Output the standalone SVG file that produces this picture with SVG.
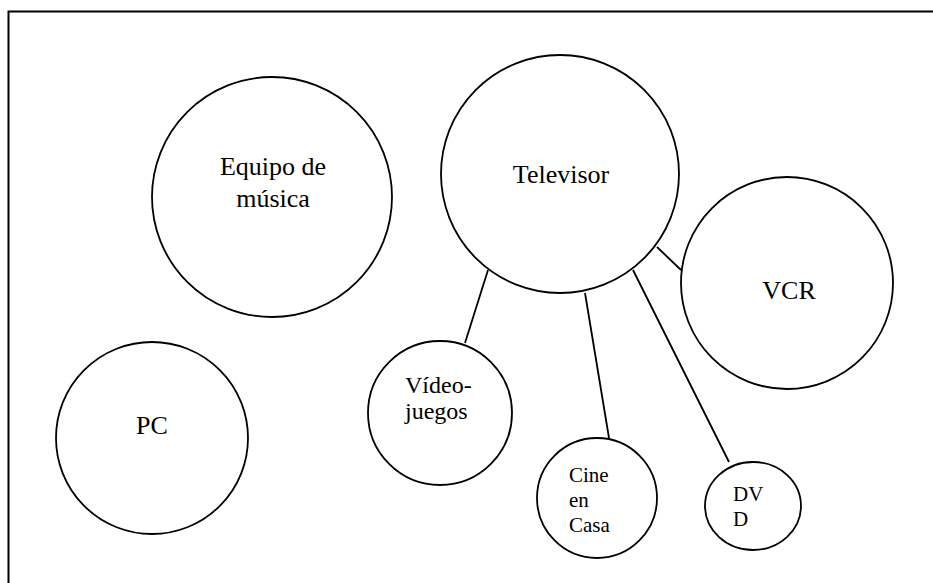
<svg xmlns="http://www.w3.org/2000/svg" width="933" height="583" viewBox="0 0 933 583">
  <style>
    .frame { fill: none; stroke: #000; stroke-width: 2; }
    .node { fill: #fff; stroke: #000; stroke-width: 1.8; }
    .link { stroke: #000; stroke-width: 1.8; fill: none; }
    text { font-family: "Liberation Serif", "Times New Roman", "DejaVu Serif", serif; fill: #000; }
    .big { font-size: 26px; }
    .mid { font-size: 24px; }
    .small { font-size: 21px; }
  </style>
  <rect width="933" height="583" fill="#fff"/>
  <!-- outer frame, open past the right and bottom edges -->
  <rect class="frame" x="8.5" y="11.5" width="940" height="590"/>

  <g id="connectors">
    <line class="link" x1="488" y1="270" x2="465" y2="343"/>
    <line class="link" x1="585" y1="293" x2="609" y2="438"/>
    <line class="link" x1="633" y1="270" x2="729" y2="462"/>
    <line class="link" x1="657" y1="247" x2="681" y2="270"/>
  </g>

  <g id="equipo">
    <circle class="node" cx="272" cy="197" r="120"/>
    <text class="big" x="273" y="175" text-anchor="middle">Equipo de</text>
    <text class="big" x="273" y="207" text-anchor="middle">música</text>
  </g>

  <g id="televisor">
    <circle class="node" cx="560" cy="174" r="119"/>
    <text class="big" x="561" y="183" text-anchor="middle">Televisor</text>
  </g>

  <g id="vcr">
    <circle class="node" cx="787" cy="283" r="106"/>
    <text class="big" x="789" y="299" text-anchor="middle">VCR</text>
  </g>

  <g id="pc">
    <circle class="node" cx="152" cy="438" r="96"/>
    <text class="big" x="152" y="434" text-anchor="middle">PC</text>
  </g>

  <g id="videojuegos">
    <circle class="node" cx="440" cy="413" r="72"/>
    <text class="mid" x="405" y="393">Vídeo-</text>
    <text class="mid" x="405" y="419">juegos</text>
  </g>

  <g id="cine">
    <circle class="node" cx="597" cy="498" r="60"/>
    <text class="small" x="569" y="482">Cine</text>
    <text class="small" x="569" y="507">en</text>
    <text class="small" x="569" y="532">Casa</text>
  </g>

  <g id="dvd">
    <ellipse class="node" cx="753" cy="506" rx="48" ry="44"/>
    <text class="small" x="733" y="501">DV</text>
    <text class="small" x="733" y="526">D</text>
  </g>
</svg>
